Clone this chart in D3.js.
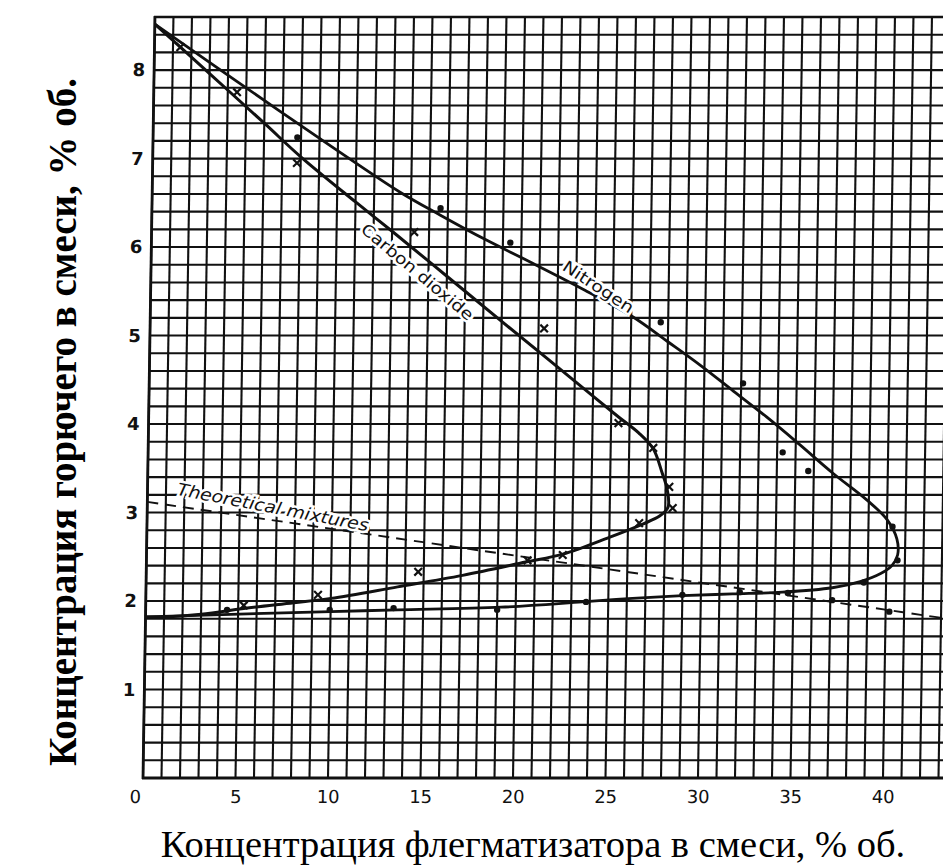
<!DOCTYPE html>
<html>
<head>
<meta charset="utf-8">
<script src="https://cdn.jsdelivr.net/npm/d3@7"></script>
<style>
  body { margin: 0; background: #fff; }
  svg { display: block; }
</style>
</head>
<body>
<svg id="chart" width="943" height="866"></svg>
<script>
// Axis ticks
const xTickValues = [0, 5, 10, 15, 20, 25, 30, 35, 40];
const yTickValues = [1, 2, 3, 4, 5, 6, 7, 8];

// Flammability boundary with carbon dioxide (upper branch then lower branch)
const co2CurveX = [0, 3.0, 6.0, 8.0, 11.0, 13.05, 16.0, 19.0, 21.5, 23.5, 25.4, 26.5, 27.3, 27.8, 28.1, 28.15, 27.7, 26.8, 25.0, 22.5, 20.5, 17.1, 13.6, 10.0, 8.0, 5.5, 3.0, 1.0, 0];
const co2CurveY = [8.52, 7.96, 7.40, 7.02, 6.51, 6.17, 5.67, 5.16, 4.74, 4.40, 4.08, 3.90, 3.72, 3.45, 3.25, 3.06, 2.96, 2.87, 2.72, 2.53, 2.44, 2.29, 2.16, 2.03, 1.98, 1.92, 1.85, 1.82, 1.82];

// Flammability boundary with nitrogen
const n2CurveX = [0, 4.5, 9.7, 13.4, 15.6, 18.0, 20.6, 23.5, 26.1, 28.0, 29.8, 31.6, 33.4, 35.2, 37.0, 38.9, 40.0, 40.55, 40.6, 40.3, 39.7, 38.6, 37.1, 34.4, 31.7, 29.0, 26.3, 23.6, 19.2, 13.6, 10.0, 4.6, 0];
const n2CurveY = [8.52, 7.87, 7.13, 6.62, 6.36, 6.09, 5.82, 5.51, 5.21, 4.93, 4.66, 4.37, 4.08, 3.77, 3.45, 3.14, 2.92, 2.70, 2.52, 2.40, 2.31, 2.22, 2.15, 2.10, 2.08, 2.06, 2.03, 1.99, 1.93, 1.90, 1.88, 1.85, 1.82];

// Measured points
const co2PointX = [1.4, 4.5, 7.8, 14.2, 21.3, 25.4, 27.3, 28.2, 28.4, 26.6, 22.5, 20.6, 14.7, 9.3, 5.3];
const co2PointY = [8.26, 7.75, 6.95, 6.17, 5.08, 4.01, 3.73, 3.29, 3.05, 2.88, 2.52, 2.46, 2.33, 2.07, 1.95];
const n2PointX = [7.8, 15.6, 19.4, 27.6, 32.1, 34.3, 35.7, 40.3, 40.6, 38.8, 34.7, 32.1, 29.0, 23.8, 19.0, 13.4, 9.95, 4.4, 37.1, 40.2];
const n2PointY = [7.24, 6.44, 6.05, 5.15, 4.46, 3.68, 3.47, 2.84, 2.46, 2.21, 2.09, 2.10, 2.07, 1.99, 1.90, 1.92, 1.90, 1.90, 2.01, 1.88];

// Stoichiometric (theoretical) mixtures line
const theoryX = [0, 44];
const theoryY = [3.12, 1.78];

const svg = d3.select("#chart");
const ink = "#111";

const x = d3.scaleLinear().domain([0, 43.2]).range([143, 942.2]);
const y = d3.scaleLinear().domain([0, 8.6]).range([778, 17]);

// Graph-paper sheet, slightly sheared as on the printed page
const plot = svg.append("g")
  .attr("transform", `translate(0,${y(0)}) skewX(-0.9) translate(0,${-y(0)})`);

// Grid: 1 unit across, 0.2 unit up
const grid = plot.append("g").attr("stroke", ink).attr("stroke-width", 2.1);
grid.selectAll("line.v").data(d3.range(0, 46)).join("line")
  .attr("class", "v")
  .attr("x1", d => x(d)).attr("x2", d => x(d))
  .attr("y1", y(0)).attr("y2", y(8.6));
grid.selectAll("line.h").data(d3.range(0, 44).map(i => +(i * 0.2).toFixed(1))).join("line")
  .attr("class", "h")
  .attr("x1", x(0)).attr("x2", x(46))
  .attr("y1", d => y(d)).attr("y2", d => y(d));

// Frame edges
plot.append("line").attr("x1", x(0)).attr("x2", x(0)).attr("y1", y(0) + 1).attr("y2", y(8.6) - 1)
  .attr("stroke", ink).attr("stroke-width", 2.8);
plot.append("line").attr("x1", x(0) - 1).attr("x2", x(46)).attr("y1", y(0)).attr("y2", y(0))
  .attr("stroke", ink).attr("stroke-width", 2.8);
plot.append("line").attr("x1", x(0) - 1).attr("x2", x(46)).attr("y1", y(8.6)).attr("y2", y(8.6))
  .attr("stroke", ink).attr("stroke-width", 2.6);

// Axes (labels only; the grid already carries the ticks)
const xAxis = plot.append("g")
  .attr("transform", `translate(0,${y(0)})`)
  .call(d3.axisBottom(x).tickValues(xTickValues).tickSize(0).tickPadding(12).tickFormat(d3.format("d")));
xAxis.select(".domain").remove();
xAxis.selectAll("text")
  .attr("font-family", "'DejaVu Sans', sans-serif").attr("font-size", 18).attr("fill", ink)
  .attr("dx", d => d === 0 ? -8 : 0);

const yAxis = plot.append("g")
  .attr("transform", `translate(${x(0)},0)`)
  .call(d3.axisLeft(y).tickValues(yTickValues).tickSize(0).tickPadding(9).tickFormat(d3.format("d")));
yAxis.select(".domain").remove();
yAxis.selectAll("text")
  .attr("font-family", "'DejaVu Sans', sans-serif").attr("font-size", 18).attr("font-weight", "bold").attr("fill", ink);

// Theoretical mixtures (dashed)
const line = d3.line().x(d => x(d[0])).y(d => y(d[1]));
plot.append("path")
  .datum(d3.zip(theoryX, theoryY))
  .attr("d", line)
  .attr("fill", "none").attr("stroke", ink).attr("stroke-width", 1.9)
  .attr("stroke-dasharray", "11,7");

// Boundary curves
const smooth = d3.line().x(d => x(d[0])).y(d => y(d[1])).curve(d3.curveCatmullRom.alpha(0.5));
plot.append("path")
  .datum(d3.zip(co2CurveX, co2CurveY))
  .attr("d", smooth)
  .attr("fill", "none").attr("stroke", ink).attr("stroke-width", 3).attr("stroke-linejoin", "round");
plot.append("path")
  .datum(d3.zip(n2CurveX, n2CurveY))
  .attr("d", smooth)
  .attr("fill", "none").attr("stroke", ink).attr("stroke-width", 2.8).attr("stroke-linejoin", "round");

// Measured points
plot.append("g").selectAll("path").data(d3.zip(co2PointX, co2PointY)).join("path")
  .attr("transform", d => `translate(${x(d[0])},${y(d[1])})`)
  .attr("d", d3.symbol(d3.symbolTimes, 40))
  .attr("fill", "none").attr("stroke", ink).attr("stroke-width", 2.2);
plot.append("g").selectAll("path").data(d3.zip(n2PointX, n2PointY)).join("path")
  .attr("transform", d => `translate(${x(d[0])},${y(d[1])})`)
  .attr("d", d3.symbol(d3.symbolCircle, 32))
  .attr("fill", ink);

// Curve labels
function curveLabel(text, cx, cy, angle, size, length, italic) {
  plot.append("text")
    .attr("transform", `translate(${x(cx)},${y(cy)}) rotate(${angle})`)
    .attr("text-anchor", "middle").attr("dy", "0.35em")
    .attr("font-family", "'DejaVu Sans', sans-serif").attr("font-size", size)
    .attr("font-style", italic ? "italic" : "normal")
    .attr("textLength", length).attr("lengthAdjust", "spacingAndGlyphs")
    .attr("fill", ink)
    .attr("stroke", "#fff").attr("stroke-width", 5).attr("paint-order", "stroke")
    .text(text);
}
curveLabel("Carbon dioxide", 14.4, 5.72, 39.5, 16, 142, false);
curveLabel("Nitrogen", 24.2, 5.55, 33, 16, 82, false);
curveLabel("Theoretical mixtures", 6.8, 3.06, 10.8, 17, 195, true);

// Axis titles
svg.append("text")
  .attr("x", 533).attr("y", 857)
  .attr("text-anchor", "middle")
  .attr("font-family", "'Liberation Serif', 'Times New Roman', serif").attr("font-size", 38.5)
  .attr("fill", "#000")
  .text("Концентрация флегматизатора в смеси, % об.");
svg.append("text")
  .attr("transform", "translate(76,422) rotate(-90)")
  .attr("text-anchor", "middle")
  .attr("font-family", "'Liberation Serif', 'Times New Roman', serif").attr("font-size", 39)
  .attr("font-weight", "bold").attr("fill", "#000")
  .text("Концентрация горючего в смеси, % об.");
</script>
</body>
</html>
